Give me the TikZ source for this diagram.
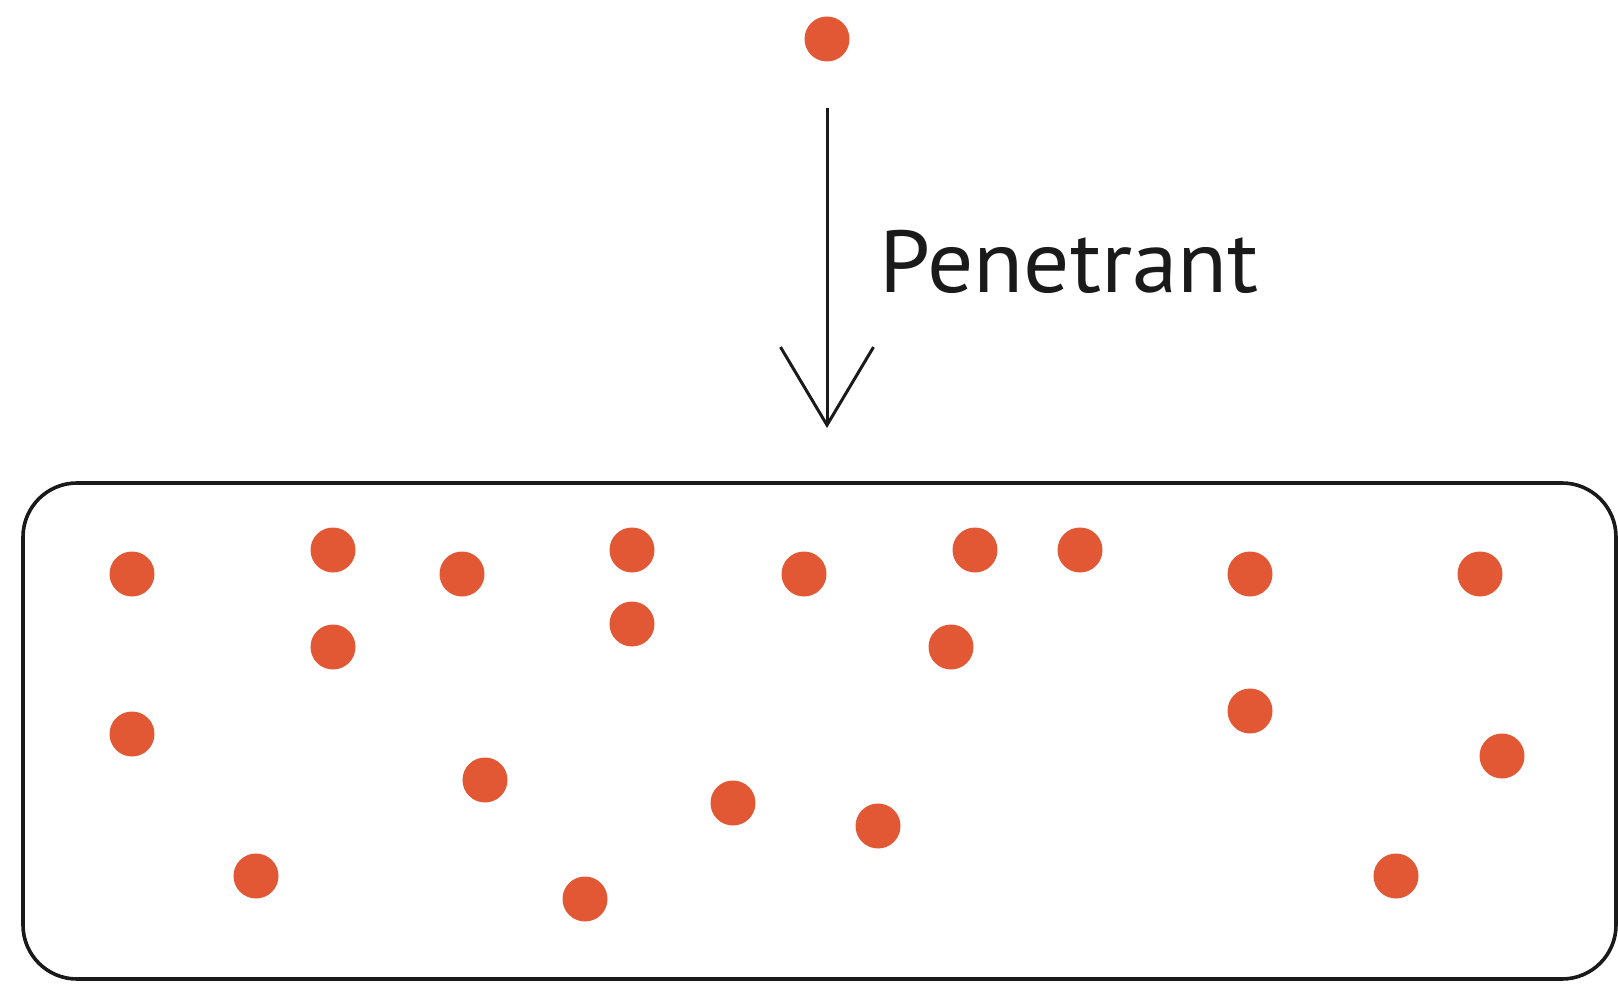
\documentclass[tikz,border=0pt]{standalone}
\usepackage{fontspec}
\setmainfont{PT Sans}
\usetikzlibrary{arrows.meta}
\definecolor{dotred}{RGB}{226,88,52}
\definecolor{ink}{RGB}{26,26,26}
\tikzset{
  dot/.style={circle, fill=dotred, draw=none, minimum size=45pt, inner sep=0pt},
  vessel/.style={draw=ink, line width=3.6pt, rounded corners=54pt, minimum width=1593pt, minimum height=496pt, inner sep=0pt},
  flow/.style={draw=ink, line width=3pt, -{Straight Barb[length=78pt, width=93pt, line width=3pt]}},
  lbl/.style={text=ink, font=\fontsize{88}{92}\selectfont\addfontfeature{FakeStretch=1.04}, inner sep=0pt, anchor=base west}
}
\begin{document}
\begin{tikzpicture}[x=1pt, y=-1pt]
\useasboundingbox[fill=white] (0,0) rectangle (1618,987);
\node[vessel] (box) at (819.5,731) {};
\node[dot] (top) at (827,39) {};
\coordinate (entry) at (827,428);
\draw[flow, shorten <=46pt] (top.south) -- (entry);
\node[lbl] (pen) at (879,292) {Penetrant};
\node[dot] (d1) at (132,574) {};
\node[dot] (d2) at (333,550) {};
\node[dot] (d3) at (462,574) {};
\node[dot] (d4) at (632,550) {};
\node[dot] (d5) at (804,574) {};
\node[dot] (d6) at (975,550) {};
\node[dot] (d7) at (1080,550) {};
\node[dot] (d8) at (1250,574) {};
\node[dot] (d9) at (1480,574) {};
\node[dot] (d10) at (333,647) {};
\node[dot] (d11) at (632,624) {};
\node[dot] (d12) at (951,647) {};
\node[dot] (d13) at (132,734) {};
\node[dot] (d14) at (1250,711) {};
\node[dot] (d15) at (1502,756) {};
\node[dot] (d16) at (485,780) {};
\node[dot] (d17) at (733,803) {};
\node[dot] (d18) at (878,826) {};
\node[dot] (d19) at (256,876) {};
\node[dot] (d20) at (585,899) {};
\node[dot] (d21) at (1396,876) {};
\end{tikzpicture}
\end{document}
